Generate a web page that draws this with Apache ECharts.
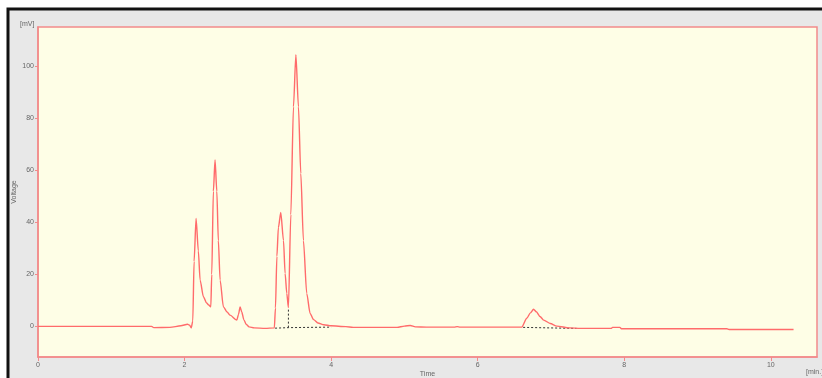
<!DOCTYPE html>
<html>
<head>
<meta charset="utf-8">
<script src="https://cdn.jsdelivr.net/npm/echarts@6/dist/echarts.min.js"></script>
<style>html,body{margin:0;padding:0;background:#fff;}#c{width:822px;height:378px;}</style>
</head>
<body>
<div id="c"></div>
<script>
// Chromatogram trace: time (min) and voltage (mV)
const timeMin = [0,1.0,1.55,1.58,1.8,1.95,2.04,2.07,2.09,2.112,2.13,2.157,2.188,2.212,2.257,2.3,2.33,2.358,2.371,2.393,2.416,2.44,2.461,2.485,2.53,2.58,2.621,2.713,2.735,2.758,2.78,2.81,2.84,2.88,2.95,3.1,3.225,3.24,3.26,3.28,3.313,3.35,3.372,3.395,3.417,3.45,3.486,3.519,3.554,3.586,3.622,3.667,3.713,3.76,3.82,3.9,4.0,4.2,4.3,4.9,5.0,5.08,5.15,5.3,5.68,5.72,5.76,6.6,6.67,6.72,6.762,6.8,6.85,6.9,6.99,7.08,7.25,7.4,7.82,7.84,7.94,7.96,9.4,9.43,10.31];
const voltage = [0,0,0,-0.5,-0.4,0.2,0.8,0.4,-0.6,2,25,41.5,29,17.8,11.4,9,8.2,7.5,20,52,64,52,33,17.8,7.5,5.5,4.3,2.4,4.5,7.5,5.5,2.5,0.8,-0.2,-0.6,-0.8,-0.6,7,27,38,43.8,33,20.4,12.7,7.2,43,84.5,104.5,84.5,58.8,33,12.7,5,2.6,1.3,0.6,0.2,-0.1,-0.4,-0.4,0.1,0.3,-0.2,-0.3,-0.3,-0.1,-0.3,-0.3,3.1,5.2,6.6,5.6,3.8,2.4,1.1,0.1,-0.6,-0.8,-0.8,-0.4,-0.4,-0.9,-0.9,-1.2,-1.2];
// Integration baselines (dashed)
const base1Time = [3.235,3.417,4.0];
const base1Volt = [-0.7,-0.5,-0.3];
const dropTime = [3.417,3.417];
const dropVolt = [-0.5,7.2];
const base2Time = [6.62,7.35];
const base2Volt = [-0.4,-0.8];
// Axes
const xTicks = [0,2,4,6,8,10];
const yTicks = [0,20,40,60,80,100];

const zip = (a,b)=>a.map((v,i)=>[v,b[i]]);
const font = 'Liberation Sans';
const axisRed = '#f28a8a';
const chart = echarts.init(document.getElementById('c'), null, {renderer:'canvas'});
const dashed = {type:'line', symbol:'none', silent:true, animation:false,
  lineStyle:{color:'#333', width:1, type:[2,2]}};
chart.setOption({
  animation:false,
  backgroundColor:'#ffffff',
  graphic:[
    {type:'rect', z:-10, shape:{x:8, y:9, width:900, height:500},
     style:{fill:'#e8e8e8', stroke:'#111', lineWidth:3}},
    {type:'text', left:20, top:21, style:{text:'[mV]', font:'7px '+font, fill:'#666'}},
    {type:'text', left:806, top:369, style:{text:'[min.]', font:'7px '+font, fill:'#666'}}
  ],
  grid:{left:38, top:27, right:5, bottom:21, show:true, backgroundColor:'#fefee6',
        borderColor:axisRed, borderWidth:1.5, outerBoundsMode:'none', containLabel:false},
  xAxis:{type:'value', min:0, max:10.63, interval:2,
    name:'Time', nameLocation:'middle', nameGap:14, nameMoveOverlap:false,
    nameTextStyle:{fontFamily:font, fontSize:7, color:'#666'},
    axisLine:{show:true, onZero:false, lineStyle:{color:axisRed, width:1.5}},
    axisTick:{show:true, length:4, lineStyle:{color:axisRed}, customValues:xTicks},
    axisLabel:{fontFamily:font, fontSize:7, color:'#666', margin:5, customValues:xTicks},
    splitLine:{show:false}},
  yAxis:{type:'value', min:-11.8, max:115.2,
    name:'Voltage', nameLocation:'middle', nameGap:20, nameMoveOverlap:false,
    nameTextStyle:{fontFamily:font, fontSize:7, color:'#666'},
    axisLine:{show:true, onZero:false, lineStyle:{color:axisRed, width:1.5}},
    axisTick:{show:true, length:3, lineStyle:{color:axisRed}, customValues:yTicks},
    axisLabel:{fontFamily:font, fontSize:7, color:'#666', margin:4, customValues:yTicks},
    splitLine:{show:false}},
  series:[
    Object.assign({data:zip(base1Time,base1Volt)}, dashed),
    Object.assign({data:zip(dropTime,dropVolt)}, dashed),
    Object.assign({data:zip(base2Time,base2Volt)}, dashed),
    {type:'line', data:zip(timeMin,voltage), symbol:'none', smooth:0.25, smoothMonotone:'x',
     lineStyle:{color:'#ff6b6b', width:1.4}, z:3}
  ]
});
</script>
</body>
</html>
